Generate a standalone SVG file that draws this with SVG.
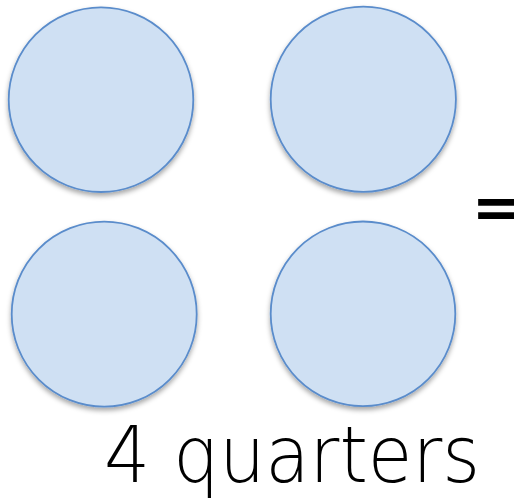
<svg xmlns="http://www.w3.org/2000/svg" width="514" height="501" viewBox="0 0 514 501">
<style>
.c{fill:#cfe0f3;stroke:#5a8ccb;stroke-width:1.8;filter:url(#sh)}
.t{font-family:"DejaVu Sans",sans-serif;font-weight:200;font-size:78px;fill:#000}
.eq{font-family:"DejaVu Sans",sans-serif;font-weight:bold;font-size:58px;fill:#000}
</style>
<defs>
<filter id="sh" x="-10%" y="-10%" width="120%" height="125%">
<feDropShadow dx="0" dy="3" stdDeviation="2.5" flood-color="#000" flood-opacity="0.35"/>
</filter>
</defs>
<g id="circle1"><circle class="c" cx="101" cy="99.7" r="92.3"/></g>
<g id="circle2"><circle class="c" cx="363.3" cy="99.3" r="92.6"/></g>
<g id="circle3"><circle class="c" cx="104.2" cy="314.2" r="92.5"/></g>
<g id="circle4"><circle class="c" cx="363" cy="313.8" r="92.3"/></g>
<g id="equals"><text class="eq" x="472" y="227">=</text></g>
<g id="label"><text class="t" x="104" y="482" textLength="376" lengthAdjust="spacingAndGlyphs">4 quarters</text></g>
</svg>
